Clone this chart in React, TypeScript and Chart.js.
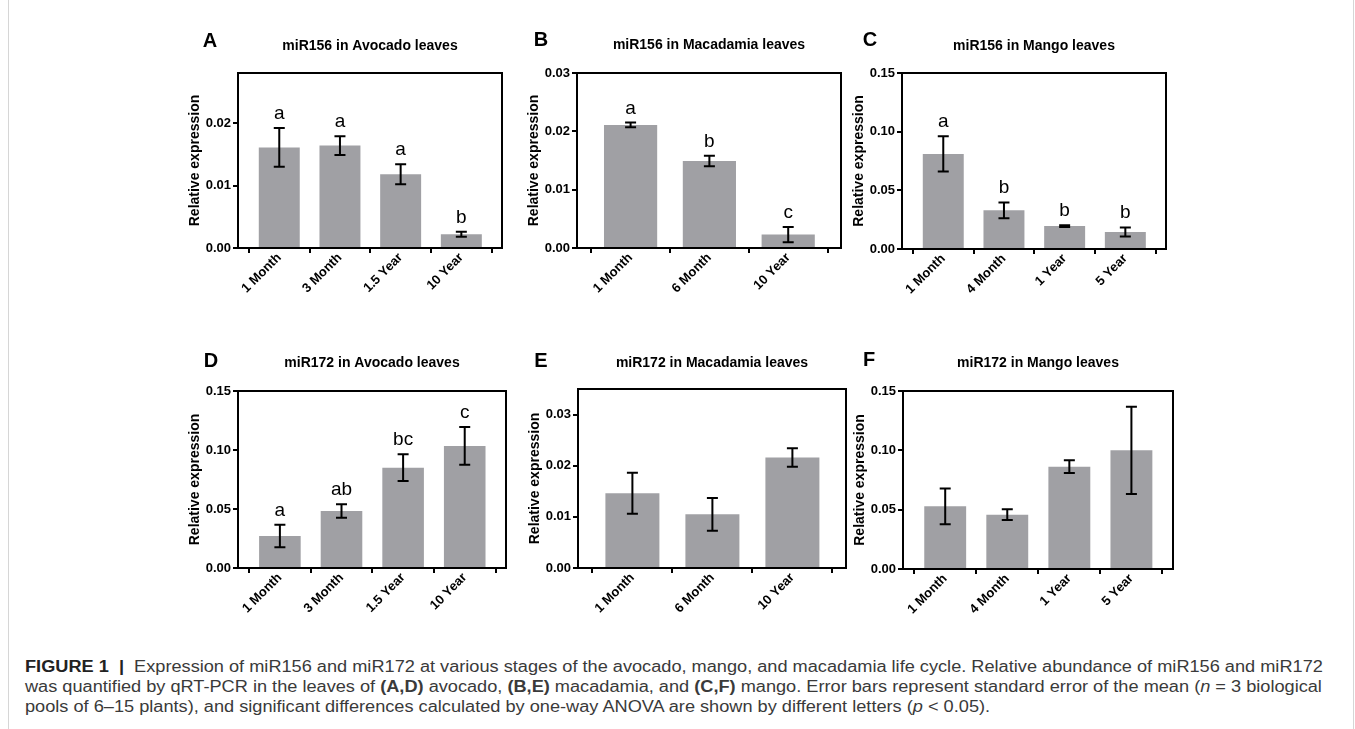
import React, { useEffect, useLayoutEffect, useRef, useState } from 'react';
import { Chart, registerables } from 'chart.js';

Chart.register(...registerables);

const FONT = '"Liberation Sans", Arial, Helvetica, sans-serif';
const BAR = '#a0a0a4';

// ---- Panel A: miR156 in Avocado leaves
const catsA = ['1 Month', '3 Month', '1.5 Year', '10 Year'];
const meanA = [0.0161, 0.0164, 0.0118, 0.0022];
const seA = [0.0031, 0.0015, 0.0016, 0.0004];
const lettersA = ['a', 'a', 'a', 'b'];
const ticksA = [0, 0.01, 0.02];
const maxA = 0.028;

// ---- Panel B: miR156 in Macadamia leaves
const catsB = ['1 Month', '6 Month', '10 Year'];
const meanB = [0.0211, 0.0149, 0.0023];
const seB = [0.0004, 0.0009, 0.0013];
const lettersB = ['a', 'b', 'c'];
const ticksB = [0, 0.01, 0.02, 0.03];
const maxB = 0.03;

// ---- Panel C: miR156 in Mango leaves
const catsC = ['1 Month', '4 Month', '1 Year', '5 Year'];
const meanC = [0.081, 0.033, 0.0195, 0.0145];
const seC = [0.015, 0.0067, 0.0008, 0.0039];
const lettersC = ['a', 'b', 'b', 'b'];
const ticksC = [0, 0.05, 0.1, 0.15];
const maxC = 0.15;

// ---- Panel D: miR172 in Avocado leaves
const catsD = ['1 Month', '3 Month', '1.5 Year', '10 Year'];
const meanD = [0.0271, 0.0483, 0.085, 0.1034];
const seD = [0.0095, 0.0057, 0.0113, 0.016];
const lettersD = ['a', 'ab', 'bc', 'c'];
const ticksD = [0, 0.05, 0.1, 0.15];
const maxD = 0.15;

// ---- Panel E: miR172 in Macadamia leaves
const catsE = ['1 Month', '6 Month', '10 Year'];
const meanE = [0.0146, 0.0105, 0.0216];
const seE = [0.004, 0.0032, 0.0018];
const lettersE: string[] = [];
const ticksE = [0, 0.01, 0.02, 0.03];
const maxE = 0.035;

// ---- Panel F: miR172 in Mango leaves
const catsF = ['1 Month', '4 Month', '1 Year', '5 Year'];
const meanF = [0.0528, 0.0458, 0.0862, 0.1];
const seF = [0.015, 0.0045, 0.0054, 0.0368];
const lettersF: string[] = [];
const ticksF = [0, 0.05, 0.1, 0.15];
const maxF = 0.15;

type Cfg = {
  id: string;
  title: string;
  cats: string[];
  mean: number[];
  se: number[];
  letters: string[];
  ticks: number[];
  max: number;
  l: number; t: number; r: number; b: number;
  letterX: number; letterY: number; titleY: number;
};

const panels: Cfg[] = [
  { id: 'A', title: 'miR156 in Avocado leaves', cats: catsA, mean: meanA, se: seA, letters: lettersA, ticks: ticksA, max: maxA,
    l: 238, t: 73, r: 502, b: 248, letterX: 210, letterY: 41, titleY: 46 },
  { id: 'B', title: 'miR156 in Macadamia leaves', cats: catsB, mean: meanB, se: seB, letters: lettersB, ticks: ticksB, max: maxB,
    l: 577, t: 73, r: 841, b: 248, letterX: 541, letterY: 40, titleY: 45 },
  { id: 'C', title: 'miR156 in Mango leaves', cats: catsC, mean: meanC, se: seC, letters: lettersC, ticks: ticksC, max: maxC,
    l: 902, t: 73, r: 1166, b: 249, letterX: 870, letterY: 40, titleY: 46 },
  { id: 'D', title: 'miR172 in Avocado leaves', cats: catsD, mean: meanD, se: seD, letters: lettersD, ticks: ticksD, max: maxD,
    l: 238, t: 391, r: 506, b: 568, letterX: 211, letterY: 361, titleY: 363 },
  { id: 'E', title: 'miR172 in Macadamia leaves', cats: catsE, mean: meanE, se: seE, letters: lettersE, ticks: ticksE, max: maxE,
    l: 578, t: 389, r: 846, b: 568, letterX: 541, letterY: 361, titleY: 363 },
  { id: 'F', title: 'miR172 in Mango leaves', cats: catsF, mean: meanF, se: seF, letters: lettersF, ticks: ticksF, max: maxF,
    l: 903, t: 391, r: 1173, b: 569, letterX: 869, letterY: 360, titleY: 363 },
];

const PADL = 95;
const PADT = 60;
const PADR = 14;
const PADB = 70;

function overlay(cfg: Cfg, left: number, top: number) {
  return {
    id: 'overlay' + cfg.id,
    afterDatasetsDraw(chart: any) {
      const ctx = chart.ctx;
      const xs = chart.scales.x;
      const ys = chart.scales.y;
      ctx.save();
      ctx.strokeStyle = '#000';
      ctx.lineWidth = 2;
      cfg.mean.forEach((m, i) => {
        const x = xs.getPixelForValue(i);
        const yT = ys.getPixelForValue(m + cfg.se[i]);
        const yB = ys.getPixelForValue(Math.max(0, m - cfg.se[i]));
        ctx.beginPath();
        ctx.moveTo(x, yT);
        ctx.lineTo(x, yB);
        ctx.moveTo(x - 5.5, yT);
        ctx.lineTo(x + 5.5, yT);
        ctx.moveTo(x - 5.5, yB);
        ctx.lineTo(x + 5.5, yB);
        ctx.stroke();
        const lt = cfg.letters[i];
        if (lt) {
          ctx.fillStyle = '#000';
          ctx.font = `19px ${FONT}`;
          ctx.textAlign = 'center';
          ctx.textBaseline = 'alphabetic';
          ctx.fillText(lt, x, yT - 9);
        }
      });
      ctx.restore();
    },
    afterDraw(chart: any) {
      const ctx = chart.ctx;
      const a = chart.chartArea;
      ctx.save();
      ctx.strokeStyle = '#000';
      ctx.lineWidth = 2;
      ctx.strokeRect(a.left, a.top, a.right - a.left, a.bottom - a.top);
      ctx.fillStyle = '#000';
      // title
      ctx.font = `bold 14px ${FONT}`;
      ctx.textAlign = 'center';
      ctx.textBaseline = 'middle';
      ctx.fillText(cfg.title, (a.left + a.right) / 2, cfg.titleY - top);
      // panel letter
      ctx.font = `bold 20px ${FONT}`;
      ctx.fillText(cfg.id, cfg.letterX - left, cfg.letterY - top);
      // y title
      ctx.translate(a.left - 43, (a.top + a.bottom) / 2);
      ctx.rotate(-Math.PI / 2);
      ctx.font = `bold 14px ${FONT}`;
      ctx.fillText('Relative expression', 0, 0);
      ctx.restore();
    },
  };
}

function Panel({ cfg }: { cfg: Cfg }) {
  const ref = useRef<HTMLCanvasElement>(null);
  const w = cfg.r - cfg.l + PADL + PADR;
  const h = cfg.b - cfg.t + PADT + PADB;
  const left = cfg.l - PADL;
  const top = cfg.t - PADT;
  useEffect(() => {
    if (!ref.current) return;
    const n = cfg.cats.length;
    const tickFont = { family: FONT, size: 13, weight: 'bold' as const };
    const chart = new Chart(ref.current, {
      type: 'bar',
      data: {
        datasets: [
          {
            data: cfg.mean.map((v, i) => ({ x: i, y: v })),
            backgroundColor: BAR,
            borderWidth: 0,
            categoryPercentage: 1,
            barPercentage: 0.675,
          },
        ],
      },
      options: {
        animation: false,
        responsive: false,
        maintainAspectRatio: false,
        devicePixelRatio: 1,
        layout: { padding: { left: 0, top: PADT, right: PADR, bottom: 0 } },
        plugins: { legend: { display: false }, tooltip: { enabled: false }, title: { display: false } },
        scales: {
          x: {
            type: 'linear',
            min: -0.68,
            max: n - 1 + 0.67,
            offset: false,
            afterBuildTicks: (s: any) => {
              s.ticks = cfg.cats.map((_, i) => ({ value: i }));
            },
            afterFit: (s: any) => {
              s.height = PADB;
            },
            grid: { display: true, drawOnChartArea: false, drawTicks: true, tickLength: 5, color: '#000', lineWidth: 2 },
            border: { display: true, color: '#000', width: 2 },
            ticks: {
              autoSkip: false,
              maxRotation: 45,
              minRotation: 45,
              color: '#000',
              padding: -3,
              font: tickFont,
              callback: (v: any) => cfg.cats[Number(v)] ?? '',
            },
          },
          y: {
            type: 'linear',
            min: 0,
            max: cfg.max,
            afterBuildTicks: (s: any) => {
              s.ticks = cfg.ticks.map((v) => ({ value: v }));
            },
            afterFit: (s: any) => {
              s.width = PADL;
            },
            grid: { display: true, drawOnChartArea: false, drawTicks: true, tickLength: 5, color: '#000', lineWidth: 2 },
            border: { display: true, color: '#000', width: 2 },
            ticks: {
              color: '#000',
              padding: 2,
              font: tickFont,
              callback: (v: any) => Number(v).toFixed(2),
            },
          },
        },
      } as any,
      plugins: [overlay(cfg, left, top)],
    });
    return () => chart.destroy();
  }, []);
  return (
    <canvas
      ref={ref}
      width={w}
      height={h}
      style={{ position: 'absolute', left, top, width: w, height: h }}
    />
  );
}

function Caption() {
  const l1 = useRef<HTMLDivElement>(null);
  const [k, setK] = useState(1);
  useLayoutEffect(() => {
    const el = l1.current;
    if (el) {
      const span = el.firstElementChild as HTMLElement | null;
      const wd = span ? span.offsetWidth : el.scrollWidth;
      if (wd > 0) setK(1298 / wd);
    }
  }, []);
  const lineStyle: React.CSSProperties = {
    position: 'absolute',
    left: 0,
    whiteSpace: 'nowrap',
    height: 20,
    lineHeight: '20px',
  };
  return (
    <div
      style={{
        position: 'absolute',
        left: 25,
        top: 657,
        width: 1400,
        height: 64,
        fontFamily: FONT,
        fontSize: 16,
        color: '#3a3a3a',
        transform: `scaleX(${k})`,
        transformOrigin: '0 0',
      }}
    >
      <div ref={l1} style={{ ...lineStyle, top: 0 }}>
        <span>
          <b style={{ color: '#222' }}>FIGURE 1&nbsp;&nbsp;|&nbsp;</b> Expression of miR156 and miR172 at various stages of the avocado, mango, and macadamia life cycle. Relative abundance of miR156 and miR172
        </span>
      </div>
      <div style={{ ...lineStyle, top: 20 }}>
        was quantified by qRT-PCR in the leaves of <b>(A,D)</b> avocado, <b>(B,E)</b> macadamia, and <b>(C,F)</b> mango. Error bars represent standard error of the mean (<i>n</i> = 3 biological
      </div>
      <div style={{ ...lineStyle, top: 40 }}>
        pools of 6–15 plants), and significant differences calculated by one-way ANOVA are shown by different letters (<i>p</i> &lt; 0.05).
      </div>
    </div>
  );
}

export default function App() {
  return (
    <div style={{ position: 'absolute', left: 0, top: 0, width: 1355, height: 729, overflow: 'hidden', background: '#fff' }}>
      <div style={{ position: 'absolute', left: 8, top: 0, width: 1, height: 729, background: '#d6d6d6' }} />
      <div style={{ position: 'absolute', left: 1353, top: 0, width: 1, height: 729, background: '#d6d6d6' }} />
      {panels.map((p) => (
        <Panel key={p.id} cfg={p} />
      ))}
      <Caption />
    </div>
  );
}
